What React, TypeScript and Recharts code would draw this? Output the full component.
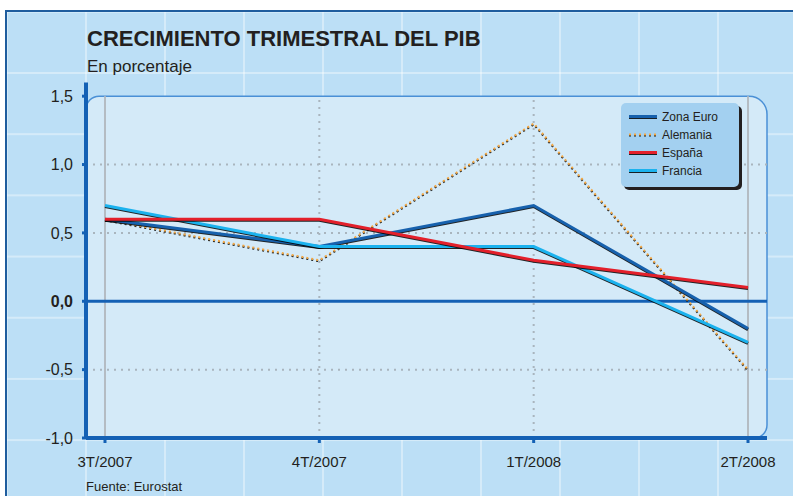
import { LineChart, Line, XAxis, YAxis, ReferenceLine, ReferenceArea, Legend } from "recharts";

const quarters = ["3T/2007", "4T/2007", "1T/2008", "2T/2008"];
const zonaEuro = [0.6, 0.4, 0.7, -0.2];
const alemania = [0.6, 0.3, 1.3, -0.5];
const espana = [0.6, 0.6, 0.3, 0.1];
const francia = [0.7, 0.4, 0.4, -0.3];
const yTicks = [-1, -0.5, 0, 0.5, 1, 1.5];
const dottedRows = [1, 0.5, -0.5];
const dottedCols = [1, 2];
const solidCols = [0, 3];

const series = [
  { key: "zonaEuro", name: "Zona Euro", color: "#1761ad", width: 3, dash: undefined as string | undefined },
  { key: "alemania", name: "Alemania", color: "#f5a843", width: 2, dash: "2 3" },
  { key: "espana", name: "España", color: "#e3202b", width: 3, dash: undefined },
  { key: "francia", name: "Francia", color: "#1bb2ee", width: 3, dash: undefined },
];

const data = quarters.map((q, i) => ({
  i,
  q,
  zonaEuro: zonaEuro[i],
  alemania: alemania[i],
  espana: espana[i],
  francia: francia[i],
}));

const FONT = '"Liberation Sans", Arial, sans-serif';
const INK = "#231f20";
const AXIS = "#1461b5";
const GRID = "#a9b5be";
const SHADOW = "drop-shadow(0.5px 1.2px 0.2px rgba(0,0,0,0.85))";

const fmt = (v: number) => v.toFixed(1).replace(".", ",");

// fondo redondeado del área de trazado
const PlotFrame = (p: any) => {
  const { x, y, width: w, height: h } = p;
  const a = 13;
  const b = 18;
  const c = 13;
  const body = `M${x},${y + h} L${x},${y + a} A${a},${a} 0 0 1 ${x + a},${y} L${x + w - b},${y} A${b},${b} 0 0 1 ${x + w},${y + b} L${x + w},${y + h - c} A${c},${c} 0 0 1 ${x + w - c},${y + h} Z`;
  const edge = `M${x},${y + a} A${a},${a} 0 0 1 ${x + a},${y} L${x + w - b},${y} A${b},${b} 0 0 1 ${x + w},${y + b} L${x + w},${y + h - c} A${c},${c} 0 0 1 ${x + w - c},${y + h}`;
  return (
    <g>
      <path d={body} fill="#d4eaf8" />
      <path d={edge} fill="none" stroke="#4a90d6" strokeWidth={1.5} />
    </g>
  );
};

const YTick = (p: any) => (
  <text
    x={p.x}
    y={p.y}
    dy="0.355em"
    textAnchor="end"
    fontFamily={FONT}
    fontSize={16}
    fontWeight={p.payload.value === 0 ? "bold" : "normal"}
    fill={INK}
  >
    {fmt(p.payload.value)}
  </text>
);

const XTick = (p: any) => (
  <text x={p.x} y={p.y} dy="0.71em" textAnchor="middle" fontFamily={FONT} fontSize={15} fill={INK}>
    {quarters[p.payload.value]}
  </text>
);

const LegendBox = () => (
  <div
    style={{
      width: 118,
      height: 84,
      boxSizing: "border-box",
      padding: "5px 0 0 8px",
      background: "#a3d0f0",
      borderRadius: 5,
      boxShadow: "3px 3px 0 #231f20",
      fontFamily: FONT,
      fontSize: 12,
      color: INK,
    }}
  >
    {series.map((s) => (
      <div key={s.key} style={{ display: "flex", alignItems: "center", height: 18 }}>
        <svg width={28} height={8} style={{ overflow: "visible" }}>
          <line
            x1={0}
            y1={3.5}
            x2={28}
            y2={3.5}
            stroke={s.color}
            strokeWidth={s.width}
            strokeDasharray={s.dash}
            style={{ filter: SHADOW }}
          />
        </svg>
        <span style={{ marginLeft: 5 }}>{s.name}</span>
      </div>
    ))}
  </div>
);

export default function App() {
  return (
    <div style={{ position: "relative", width: 793, height: 496, overflow: "hidden", background: "#fff" }}>
      <style>{`body{margin:0}.recharts-line-curve{filter:${SHADOW}}`}</style>
      <div
        style={{
          position: "absolute",
          left: 5,
          top: 10,
          width: 800,
          height: 500,
          borderTop: "2px solid #1f5d9e",
          borderLeft: "2px solid #1f5d9e",
          backgroundColor: "#bcdff6",
          backgroundImage:
            "linear-gradient(to right, rgba(255,255,255,0.38) 0, rgba(255,255,255,0.38) 2px, transparent 2px), linear-gradient(to bottom, rgba(255,255,255,0.38) 0, rgba(255,255,255,0.38) 2px, transparent 2px)",
          backgroundSize: "79px 61.2px",
          backgroundPosition: "78px 60px",
        }}
      />
      <svg width={793} height={496} style={{ position: "absolute", left: 0, top: 0 }}>
        <text x={87} y={46} fontFamily={FONT} fontSize={22} fontWeight="bold" fill={INK}>
          CRECIMIENTO TRIMESTRAL DEL PIB
        </text>
        <text x={87} y={72} fontFamily={FONT} fontSize={17} fill={INK}>
          En porcentaje
        </text>
        <text x={86} y={491} fontFamily={FONT} fontSize={13} fill={INK}>
          Fuente: Eurostat
        </text>
      </svg>
      <div style={{ position: "absolute", left: 0, top: 0 }}>
        <LineChart width={793} height={496} data={data} margin={{ top: 82.5, right: 26, bottom: 18, left: 26 }}>
          <ReferenceArea y1={-1} y2={1.5} shape={<PlotFrame />} zIndex={-100} />
          {dottedRows.map((v) => (
            <ReferenceLine key={"r" + v} y={v} stroke={GRID} strokeWidth={2} strokeDasharray="2 5" zIndex={-50} />
          ))}
          {dottedCols.map((c) => (
            <ReferenceLine
              key={"c" + c}
              segment={[{ x: c, y: -1 }, { x: c, y: 1.5 }]}
              stroke={GRID}
              strokeWidth={2}
              strokeDasharray="2 5"
              zIndex={-50}
            />
          ))}
          {solidCols.map((c) => (
            <ReferenceLine
              key={"s" + c}
              segment={[{ x: c, y: -1 }, { x: c, y: 1.5 }]}
              stroke="#b4bcc3"
              strokeWidth={2}
              zIndex={-50}
            />
          ))}
          <ReferenceLine y={0} stroke={AXIS} strokeWidth={3} zIndex={-40} />
          {[series[1], series[0], series[3], series[2]].map((s) => (
            <Line
              key={s.key}
              type="linear"
              dataKey={s.key}
              name={s.name}
              stroke={s.color}
              strokeWidth={s.width}
              strokeDasharray={s.dash}
              dot={false}
              activeDot={false}
              isAnimationActive={false}
            />
          ))}
          <XAxis
            type="number"
            dataKey="i"
            domain={[-0.0886, 3.0886]}
            ticks={[0, 1, 2, 3]}
            interval={0}
            height={40}
            axisLine={{ stroke: AXIS, strokeWidth: 4 }}
            tickLine={{ stroke: AXIS, strokeWidth: 3 }}
            tickSize={5}
            tickMargin={13}
            tick={<XTick />}
          />
          <YAxis
            type="number"
            domain={[-1, 1.6]}
            ticks={yTicks}
            interval={0}
            width={60}
            axisLine={{ stroke: AXIS, strokeWidth: 4 }}
            tickLine={{ stroke: AXIS, strokeWidth: 3 }}
            tickSize={4}
            tickMargin={9}
            tick={<YTick />}
          />
          <Legend
            content={<LegendBox />}
            layout="horizontal"
            verticalAlign="middle"
            align="center"
            wrapperStyle={{ left: 621, top: 103, width: 118, height: 84 }}
          />
        </LineChart>
      </div>
    </div>
  );
}
